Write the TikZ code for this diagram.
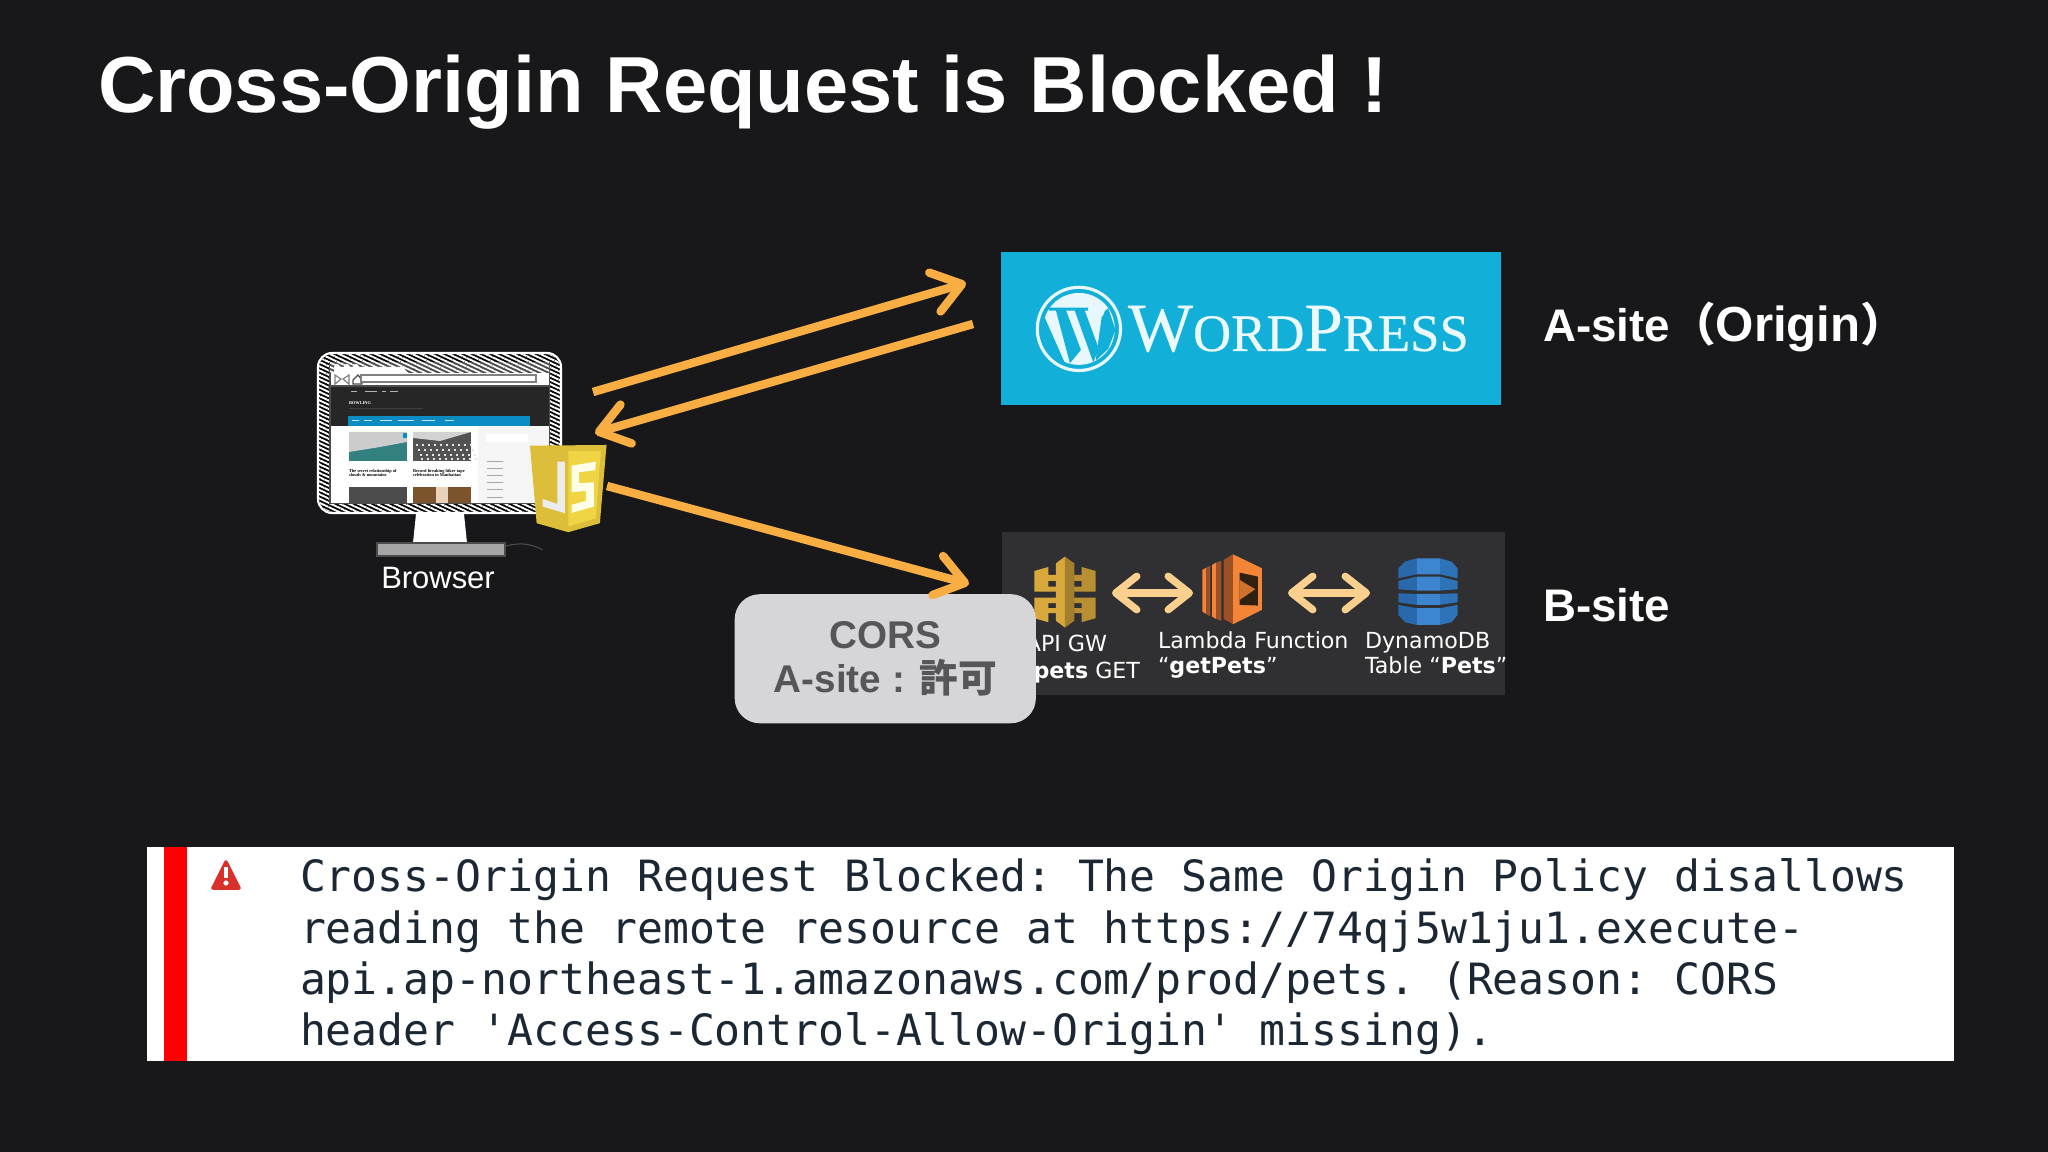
\documentclass[tikz,border=0pt]{standalone}
\usepackage{fontspec}
\setmainfont{Liberation Sans}
\newfontfamily\cjkfont{Noto Sans CJK JP}
\newfontfamily\wpfont{Liberation Serif}
\newfontfamily\wplogofont[FakeBold=0.35]{Liberation Serif}
\newfontfamily\awsfont{DejaVu Sans}
\newfontfamily\errfont{DejaVu Sans Mono}
\usetikzlibrary{arrows.meta, patterns.meta}
\definecolor{slidebg}{HTML}{18181A}
\definecolor{arroworange}{HTML}{F8AE42}
\definecolor{arrowpeach}{HTML}{FBD08F}
\definecolor{wpblue}{HTML}{12B0D9}
\definecolor{navblue}{HTML}{0B8DC3}
\definecolor{awsgrey}{HTML}{303032}
\definecolor{corsgrey}{HTML}{D6D6D9}
\definecolor{corstext}{HTML}{55555A}
\definecolor{errtext}{HTML}{1B2833}
\definecolor{warnred}{HTML}{D8302A}
\definecolor{jsdark}{HTML}{DDBE3A}
\definecolor{jslight}{HTML}{EFD443}
\definecolor{golddark}{HTML}{A27E2E}
\definecolor{goldlight}{HTML}{D9A83C}
\definecolor{lambdalight}{HTML}{F58536}
\definecolor{lambdadark}{HTML}{9D5025}
\definecolor{dynamomid}{HTML}{2E72B8}
\definecolor{dynamolight}{HTML}{3D86CF}
\definecolor{dynamodark}{HTML}{2A68AC}
\tikzset{
	txt/.style = {inner sep = 0, outer sep = 0, anchor = base west},
	flow/.style = {arroworange, line width = 2.4pt, -{Straight Barb[length = 8pt, width = 11.5pt, round]}},
	link/.style = {arrowpeach, line width = 2.1pt, {Straight Barb[length = 6pt, width = 9.5pt, round]}-{Straight Barb[length = 6pt, width = 9.5pt, round]}},
	site/.style = {txt, white, font = \fontsize{13}{15}\selectfont\bfseries},
	aws/.style = {txt, white, font = \fontsize{6.3}{7.5}\selectfont\awsfont},
	err/.style = {txt, errtext, font = \fontsize{12.25}{14.6}\selectfont\errfont\frenchspacing},
	tiny/.style = {txt, black, font = \fontsize{1.25}{1.5}\selectfont\wpfont\bfseries},
}
\begin{document}
\begin{tikzpicture}[x = 0.01cm, y = -0.01cm]
	\useasboundingbox (0,0) rectangle (2048,1152);
	\fill[slidebg] (0,0) rectangle (2048,1152);

	\node[txt, white, font = \fontsize{22.6}{26}\selectfont\bfseries] (title) at (98,113) {Cross-Origin Request is Blocked !};

	% monitor
	\begin{scope}
		\fill[white] (416,514) -- (464,514) -- (467,543) -- (413,543) -- cycle;
		\filldraw[fill = gray!70, draw = gray!60!black, line width = 0.6pt] (377,543) rectangle (505,556);
		\draw[black!70, line width = 0.3pt] (506,546) .. controls (520,542) and (532,544) .. (543,550);
		\filldraw[draw = white, fill = black, line width = 0.6pt, rounded corners = 4] (318,353) rectangle (561,513);
		\fill[pattern = {Lines[angle = -25, distance = 1.1pt, line width = 0.55pt]}, pattern color = white, rounded corners = 4] (319,354) rectangle (560,512);
		\fill[gray!60!black] (329,362) rectangle (550,504);
		\fill[pattern = {Lines[angle = -25, distance = 1.1pt, line width = 0.5pt]}, pattern color = white] (330,363) rectangle (549,373);
		\fill[white] (333,373) -- (336,367) -- (403,367) -- (408,373) -- cycle;
		\fill[white] (331,373) rectangle (549,385);
		\foreach \dx in {337,347,356}
			\fill[white] (\dx,367) circle (3);
		\draw[gray, line width = 0.35pt] (335,375) -- (341,379) -- (335,384) -- cycle (349,375) -- (343,379) -- (349,384) -- cycle;
		\draw[gray!60!black, line width = 0.35pt] (353,380) -- (353,384) -- (362,384) -- (362,380) -- (358,375) -- cycle;
		\filldraw[fill = white, draw = gray, line width = 0.35pt] (361,375) rectangle (536,382);
		\fill[black!85] (331,387) rectangle (549,426);
		\fill[navblue] (348,416) rectangle (530,426);
		\foreach \dx/\dw in {352/7,364/8,380/12,398/16,422/13,445/9}
			\fill[white!75!navblue] (\dx,420) rectangle ++(\dw,1.5);
		\foreach \dx/\dw in {351/6,365/12,382/4,390/8}
			\fill[gray!60] (\dx,391) rectangle ++(\dw,1);
		\fill[gray!50!black] (349,408) rectangle (423,409);
		\fill[white] (331,426) rectangle (549,503);
		\fill[gray!8] (478,426) rectangle (549,503);
		\fill[white] (486,434) rectangle (528,442);
		\foreach \dy in {461,468,475,482,489,497}
			\fill[gray!70] (487,\dy) rectangle ++(16,1.5);
		\fill[teal!60!gray] (349,432) rectangle (407,461);
		\fill[gray!40] (349,432) -- (407,432) -- (407,442) -- (380,447) -- (349,452) -- cycle;
		\fill[navblue] (403,433) rectangle (407,438);
		\fill[gray!65!black] (413,432) rectangle (471,461);
		\fill[gray!35] (413,432) -- (471,432) -- (440,441) -- (413,438) -- cycle;
		\foreach \dx in {416,422,...,470}
			\foreach \dy in {444,449,454,458}
				\fill[gray!20] (\dx+\dy*0.4-178,\dy) rectangle ++(2,2);
		\fill[gray!60!black] (349,487) rectangle (407,503);
		\fill[brown!65!black] (413,487) rectangle (471,503);
		\fill[brown!35] (436,487) rectangle (448,503);
		\node[tiny, white] (blog) at (349,405) {BOWLING};
		\node[tiny] (post1a) at (349,472) {The secret relationship of};
		\node[tiny] (post1b) at (349,476.5) {clouds \& mountains};
		\node[tiny] (post2a) at (413,472) {Record breaking hiker tape};
		\node[tiny] (post2b) at (413,476.5) {celebration in Manhattan};
	\end{scope}

	\node[txt, white, font = \fontsize{8.8}{10}\selectfont, anchor = base] (browser) at (438,588) {Browser};

	% script badge, coordinates read at 3x
	\begin{scope}[shift = {(520,435)}, x = 0.00333cm, y = -0.00333cm]
		\fill[jsdark] (30,32) -- (260,30) -- (240,265) -- (145,292) -- (50,265) -- cycle;
		\fill[jslight] (145,48) -- (243,48) -- (228,250) -- (145,275) -- cycle;
		\fill[gray!15] (112,80) -- (135,80) -- (135,235) -- (68,215) -- (68,192) -- (112,207) -- cycle;
		\fill[white!90!yellow] (155,92) -- (228,80) -- (226,106) -- (178,112) -- (178,145) -- (222,142) -- (222,215) -- (155,234) -- (155,210) -- (198,198) -- (198,168) -- (155,172) -- cycle;
	\end{scope}

	% A-site
	\node[fill = wpblue, inner sep = 0, minimum width = 5cm, minimum height = 1.53cm, anchor = north west] (wpbox) at (1000,251.5) {};
	\begin{scope}[shift = {(1025,275)}, x = 0.00333cm, y = -0.00333cm]
		\draw[white!90!wpblue, line width = 0.9pt] (162,162) circle (125);
		\fill[white!90!wpblue] (162,162) circle (108);
		\fill[wpblue] (58,125) -- (120,265) -- (75,235) -- (50,175) -- cycle;
		\fill[wpblue] (92,103) -- (122,103) -- (168,225) -- (135,265) -- cycle;
		\fill[wpblue] (148,103) -- (178,103) -- (222,222) -- (205,262) -- cycle;
		\fill[wpblue] (232,115) -- (250,100) -- (272,165) -- (250,222) -- (212,258) -- cycle;
		\fill[wpblue] (72,98) rectangle (136,107) (126,98) rectangle (190,107);
		\fill[white!90!wpblue] (218,88) .. controls (240,72) and (250,95) .. (232,125) .. controls (222,115) and (215,100) .. (218,88);
	\end{scope}
	\node[txt, white!92!wpblue, font = \wplogofont] (wplogo) at (1128,351) {\fontsize{19.6}{20}\selectfont W\fontsize{15}{20}\selectfont ORD\fontsize{19.6}{20}\selectfont P\fontsize{15}{20}\selectfont RESS};
	\node[site] (asite) at (1543,342) {A-site{\cjkfont （}{\fontsize{14}{15}\selectfont Origin}{\cjkfont ）}};

	% B-site
	\node[fill = awsgrey, inner sep = 0, minimum width = 5.03cm, minimum height = 1.63cm, anchor = north west] (awsbox) at (1001,531.5) {};
	\begin{scope}[shift = {(1025,545)}, x = 0.00333cm, y = -0.00333cm]
		\fill[goldlight] (28,78) -- (70,66) -- (70,90) -- (93,90) -- (93,108) -- (70,108) -- (70,125) -- (93,125) -- (93,140) -- (28,140) -- cycle;
		\fill[goldlight] (28,158) -- (93,158) -- (93,175) -- (70,175) -- (70,190) -- (93,190) -- (93,205) -- (70,205) -- (70,232) -- (28,220) -- cycle;
		\fill[goldlight!85!black] (212,78) -- (170,66) -- (170,90) -- (147,90) -- (147,108) -- (170,108) -- (170,125) -- (147,125) -- (147,140) -- (212,140) -- cycle;
		\fill[goldlight!85!black] (212,158) -- (147,158) -- (147,175) -- (170,175) -- (170,190) -- (147,190) -- (147,205) -- (170,205) -- (170,232) -- (212,220) -- cycle;
		\fill[goldlight] (93,55) -- (120,35) -- (120,248) -- (93,228) -- cycle;
		\fill[golddark] (120,35) -- (148,55) -- (148,228) -- (120,248) -- cycle;
		\fill[lambdalight] (533,75) -- (545,68) -- (545,208) -- (533,200) -- cycle;
		\fill[lambdadark] (545,68) -- (557,62) -- (557,214) -- (545,208) -- cycle;
		\fill[lambdalight] (562,60) -- (574,53) -- (574,222) -- (562,215) -- cycle;
		\fill[lambdadark] (574,53) -- (590,47) -- (590,228) -- (574,222) -- cycle;
		\fill[lambdadark] (597,45) -- (625,28) -- (625,238) -- (597,222) -- cycle;
		\fill[lambdalight] (625,28) -- (712,70) -- (712,195) -- (625,238) -- cycle;
		\fill[black!75!brown] (645,83) -- (700,95) -- (700,182) -- (645,180) -- cycle;
		\fill[lambdalight!85!black] (645,105) -- (692,133) -- (645,165) -- cycle;
	\end{scope}
	\begin{scope}[shift = {(1385,545)}, x = 0.00333cm, y = -0.00333cm]
		\clip (40,70) -- (60,50) -- (95,40) -- (165,40) -- (200,50) -- (218,70) -- (218,100) -- (165,88) -- (95,88) -- (40,100) -- cycle
			(40,108) -- (95,95) -- (165,95) -- (218,108) -- (218,133) -- (165,137) -- (95,137) -- (40,133) -- cycle
			(40,145) -- (95,147) -- (165,147) -- (218,145) -- (218,172) -- (165,180) -- (95,180) -- (40,172) -- cycle
			(40,180) -- (95,190) -- (165,190) -- (218,180) -- (218,210) -- (200,232) -- (165,240) -- (95,240) -- (60,232) -- (40,210) -- cycle;
		\fill[dynamodark] (30,30) rectangle (95,250);
		\fill[dynamolight] (95,30) rectangle (165,250);
		\fill[dynamomid] (165,30) rectangle (230,250);
	\end{scope}

	\coordinate (apigw) at (1112,593);
	\coordinate (lambdaL) at (1193,593);
	\coordinate (lambdaR) at (1288,593);
	\coordinate (dynamo) at (1370,593);
	\draw[link] (apigw) -- (lambdaL);
	\draw[link] (lambdaR) -- (dynamo);

	\node[aws, anchor = base east] (gwname) at (1107,652) {API GW};
	\node[aws, anchor = base east] (gwroute) at (1140,678) {/{\bfseries pets} GET};
	\node[aws] (fnname) at (1158,648) {Lambda Function};
	\node[aws] (fnvalue) at (1158,673) {“{\bfseries getPets}”};
	\node[aws] (dbname) at (1365,648) {DynamoDB};
	\node[aws] (dbvalue) at (1365,673) {Table “{\bfseries Pets}”};
	\node[site] (bsite) at (1543,621) {B-site};

	\node[fill = corsgrey, text = corstext, rounded corners = 0.25cm, minimum width = 3.01cm, minimum height = 1.29cm, align = center, inner sep = 0, font = \fontsize{11}{12.6}\selectfont\bfseries, anchor = north west] (cors) at (734,593.5) {CORS\\A-site : {\cjkfont 許可}};

	% requests
	\coordinate (browserOut) at (593,392);
	\coordinate (wpIn) at (966,283);
	\coordinate (wpOut) at (973,324);
	\coordinate (browserIn) at (595,433);
	\coordinate (jsOut) at (607,486);
	\coordinate (awsIn) at (969,584);
	\draw[flow] (browserOut) -- (wpIn);
	\draw[flow] (wpOut) -- (browserIn);
	\draw[flow] (jsOut) -- (awsIn);

	% console message
	\node[fill = white, inner sep = 0, minimum width = 18.06cm, minimum height = 2.14cm, anchor = north west] (errbox) at (146,846.5) {};
	\fill[red] (164,846.5) rectangle (187,1060.5);
	\filldraw[fill = warnred, draw = warnred, line width = 1pt, line join = round] (226,862) -- (239,888) -- (213,888) -- cycle;
	\fill[white] (224,867) rectangle (228,878);
	\fill[white] (226,883) circle (2.6);
	\node[err] (errline1) at (300,891) {Cross-Origin Request Blocked: The Same Origin Policy disallows};
	\node[err] (errline2) at (300,943) {reading the remote resource at https://74qj5w1ju1.execute-};
	\node[err] (errline3) at (300,994) {api.ap-northeast-1.amazonaws.com/prod/pets. (Reason: CORS};
	\node[err] (errline4) at (300,1045) {header 'Access-Control-Allow-Origin' missing).};
\end{tikzpicture}
\end{document}
